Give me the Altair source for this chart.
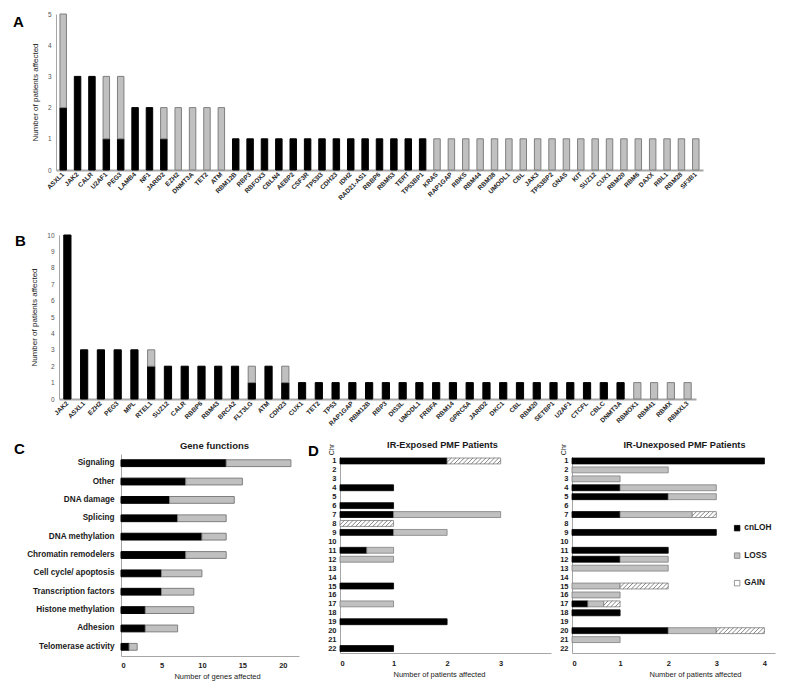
import altair as alt
import pandas as pd

FONT = "Liberation Sans"
BLACK = "#000000"
GRAY = "#c0c0c0"
GRAY_STROKE = "#7f7f7f"
AXIS_GRAY = "#a6a6a6"
TXT = "#1a1a1a"

# ---------------- Panel A ----------------
A_genes = ["ASXL1", "JAK2", "CALR", "U2AF1", "PEG3", "LAMB4", "NF1", "JARID2", "EZH2", "DNMT3A", "TET2", "ATM",
           "RBM12B", "RBP3", "RBFOX3", "CBLN4", "AEBP2", "CSF3R", "TP53I3", "CDH23", "IDH2", "RAD21-AS1", "RBBP6",
           "RBM53", "TERT", "TP53BP1",
           "KRAS", "RAP1GAP", "RBKS", "RBM44", "RBM38", "UMODL1", "CBL", "JAK3", "TP53BP2", "GNAS", "KIT", "SUZ12",
           "CUX1", "RBM20", "RBM6", "DAXX", "RBL1", "RBM28", "SF3B1"]
A_black = [2, 3, 3, 1, 1, 2, 2, 1, 0, 0, 0, 0,
           1, 1, 1, 1, 1, 1, 1, 1, 1, 1, 1, 1, 1, 1,
           0, 0, 0, 0, 0, 0, 0, 0, 0, 0, 0, 0, 0, 0, 0, 0, 0, 0, 0]
A_gray = [3, 0, 0, 2, 2, 0, 0, 1, 2, 2, 2, 2,
          0, 0, 0, 0, 0, 0, 0, 0, 0, 0, 0, 0, 0, 0,
          1, 1, 1, 1, 1, 1, 1, 1, 1, 1, 1, 1, 1, 1, 1, 1, 1, 1, 1]

# ---------------- Panel B ----------------
B_genes = ["JAK2", "ASXL1", "EZH2", "PEG3", "MPL", "RTEL1", "SUZ12", "CALR", "RBBP6", "RBM43", "BRCA2", "FLT3LG",
           "ATM", "CDH23",
           "CUX1", "TET2", "TP53", "RAP1GAP", "RBM12B", "RBP3", "DIS3L", "UMODL1", "FRBFA", "RBM14", "GPRC5A",
           "JARID2", "DKC1", "CBL", "RBM20", "SETBP1", "U2AF1", "CTCFL", "CBLC", "DNMT3A",
           "RBMOX1", "RBM41", "RBMX", "RBMXL3"]
B_black = [10, 3, 3, 3, 3, 2, 2, 2, 2, 2, 2, 1, 2, 1,
           1, 1, 1, 1, 1, 1, 1, 1, 1, 1, 1, 1, 1, 1, 1, 1, 1, 1, 1, 1,
           0, 0, 0, 0]
B_gray = [0, 0, 0, 0, 0, 1, 0, 0, 0, 0, 0, 1, 0, 1,
          0, 0, 0, 0, 0, 0, 0, 0, 0, 0, 0, 0, 0, 0, 0, 0, 0, 0, 0, 0,
          1, 1, 1, 1]

# ---------------- Panel C ----------------
C_cats = ["Signaling", "Other", "DNA damage", "Splicing", "DNA methylation", "Chromatin remodelers",
          "Cell cycle/ apoptosis", "Transcription factors", "Histone methylation", "Adhesion", "Telomerase activity"]
C_black = [13, 8, 6, 7, 10, 8, 5, 5, 3, 3, 1]
C_gray = [8, 7, 8, 6, 3, 5, 5, 4, 6, 4, 1]

# ---------------- Panel D ----------------
CHROMS = [1, 2, 3, 4, 5, 6, 7, 8, 9, 10, 11, 12, 13, 14, 15, 16, 17, 18, 19, 20, 21, 22]
D_types = ["cnLOH", "LOSS", "GAIN"]
EXP_cnloh = [2, 0, 0, 1, 0, 1, 1, 0, 1, 0, 0.5, 0, 0, 0, 1, 0, 0, 0, 2, 0, 0, 1]
EXP_loss = [0, 0, 0, 0, 0, 0, 2, 0, 1, 0, 0.5, 1, 0, 0, 0, 0, 1, 0, 0, 0, 0, 0]
EXP_gain = [1, 0, 0, 0, 0, 0, 0, 1, 0, 0, 0, 0, 0, 0, 0, 0, 0, 0, 0, 0, 0, 0]
UNE_cnloh = [4, 0, 0, 1, 2, 0, 1, 0, 3, 0, 2, 1, 0, 0, 0, 0, 0.33, 1, 0, 2, 0, 0]
UNE_loss = [0, 2, 1, 2, 1, 0, 1.5, 0, 0, 0, 0, 1, 2, 0, 1, 1, 0.33, 0, 0, 1, 1, 0]
UNE_gain = [0, 0, 0, 0, 0, 0, 0.5, 0, 0, 0, 0, 0, 0, 0, 1, 0, 0.34, 0, 0, 1, 0, 0]


def letter(ch, x, y):
    return alt.Chart(pd.DataFrame({"t": [ch]})).mark_text(
        x=x, y=y, align="left", baseline="top", fontSize=15, fontWeight="bold", font=FONT, color=BLACK
    ).encode(text="t:N")


def gene_panel(genes, black, gray, ymax, width, height, pad_inner, xrange, yoffset, let, let_x, let_y):
    rows = []
    for i, g in enumerate(genes):
        rows.append({"gene": g, "type": "a", "ord": 0, "value": black[i]})
        rows.append({"gene": g, "type": "b", "ord": 1, "value": gray[i]})
    df = pd.DataFrame(rows)
    xscale = alt.Scale(paddingInner=pad_inner, paddingOuter=pad_inner / 2)
    if xrange is not None:
        xscale = alt.Scale(paddingInner=pad_inner, paddingOuter=pad_inner / 2, range=xrange)
    bars = alt.Chart(df).transform_filter("datum.value > 0").mark_bar(strokeWidth=1).encode(
        x=alt.X("gene:N", sort=genes, scale=xscale,
                axis=alt.Axis(title=None, labelAngle=-45, labelAlign="right", labelBaseline="middle",
                              labelFontSize=6.5, labelFont=FONT, labelFontWeight="bold", labelColor="#262626",
                              ticks=False, labelPadding=3, domainColor=AXIS_GRAY, domainWidth=2,
                              labelOverlap=False)),
        y=alt.Y("value:Q", stack="zero", scale=alt.Scale(domain=[0, ymax], nice=False),
                axis=alt.Axis(title="Number of patients affected", values=list(range(ymax + 1)), ticks=False,
                              grid=False, domainColor=AXIS_GRAY, domainWidth=1, labelFontSize=6.5,
                              labelColor="#555555", labelFont=FONT, titleFont=FONT, titleFontSize=8,
                              titleFontWeight="normal", titleColor=TXT, titlePadding=8, labelPadding=5,
                              offset=yoffset, labelOverlap=False)),
        color=alt.Color("type:N", scale=alt.Scale(domain=["a", "b"], range=[BLACK, GRAY]), legend=None),
        stroke=alt.Stroke("type:N", scale=alt.Scale(domain=["a", "b"], range=[BLACK, GRAY_STROKE]), legend=None),
        order=alt.Order("ord:Q"),
    )
    return alt.layer(bars, letter(let, let_x, let_y)).properties(width=width, height=height)


panelA = gene_panel(A_genes, A_black, A_gray, 5, 647, 156, 0.55, None, 0, "A", -43, 1)
panelB = gene_panel(B_genes, B_black, B_gray, 10, 640, 164, 0.57, [3, 640], -3, "B", -41, -1)

# ---------------- C ----------------
crows = []
for i, c in enumerate(C_cats):
    crows.append({"cat": c, "type": "a", "ord": 0, "value": C_black[i]})
    crows.append({"cat": c, "type": "b", "ord": 1, "value": C_gray[i]})
cdf = pd.DataFrame(crows)
c_bars = alt.Chart(cdf).mark_bar(strokeWidth=1).encode(
    y=alt.Y("cat:N", sort=C_cats, scale=alt.Scale(paddingInner=0.63, paddingOuter=0.315),
            axis=alt.Axis(title=None, ticks=False, labelFont=FONT, labelFontSize=8.2, labelFontWeight="bold",
                          labelColor=TXT, labelPadding=7, domainColor=AXIS_GRAY, offset=-65)),
    x=alt.X("value:Q", stack="zero", scale=alt.Scale(domain=[0, 22], range=[65, 243], nice=False),
            axis=alt.Axis(title="Number of genes affected", values=[0, 5, 10, 15, 20], ticks=False, grid=False,
                          labelFont=FONT, labelFontSize=7.5, labelFontWeight="bold", labelColor=TXT,
                          labelPadding=5, domainColor=AXIS_GRAY, titleFont=FONT, titleFontSize=7.5,
                          titleFontWeight="normal", titleColor=TXT, titlePadding=4, titleX=161, format="d")),
    color=alt.Color("type:N", scale=alt.Scale(domain=["a", "b"], range=[BLACK, GRAY]), legend=None),
    stroke=alt.Stroke("type:N", scale=alt.Scale(domain=["a", "b"], range=[BLACK, GRAY_STROKE]), legend=None),
    order=alt.Order("ord:Q"),
)
panelC = alt.layer(c_bars, letter("C", -42, -12)).properties(
    width=245, height=202,
    title=alt.TitleParams("Gene functions", font=FONT, fontSize=9.5, fontWeight="bold", color=TXT, dx=36,
                          offset=-8))


# ---------------- D ----------------
def cnv_df(cn, loss, gain):
    rows = []
    for i, c in enumerate(CHROMS):
        for t, o, v in ((D_types[0], 0, cn[i]), (D_types[1], 1, loss[i]), (D_types[2], 2, gain[i])):
            rows.append({"chr": c, "type": t, "ord": o, "value": v})
    return pd.DataFrame(rows)


HALF = 0.33


def hatch_lines(cn, loss, gain, px_per_unit, band_px=5.9, gap_px=4.3):
    dx = band_px / px_per_unit
    step = gap_px / px_per_unit
    rows = []
    for i, g in enumerate(gain):
        if g <= 0:
            continue
        chrom = CHROMS[i]
        start = cn[i] + loss[i]
        end = start + g
        xs = start - dx
        while xs < end:
            t0 = max(0.0, (start - xs) / dx)
            t1 = min(1.0, (end - xs) / dx)
            if t1 > t0:
                rows.append({"hx": xs + t0 * dx, "hx2": xs + t1 * dx,
                             "hy": chrom + HALF - 2 * HALF * t0, "hy2": chrom + HALF - 2 * HALF * t1})
            xs += step
    return pd.DataFrame(rows)


def cnv_panel(cn, loss, gain, width, xmax, xticks, title, title_dx, xtitle_x, with_legend, let):
    df = cnv_df(cn, loss, gain)
    xs = alt.Scale(domain=[0, xmax], nice=False, zero=True)
    ys = alt.Scale(domain=[0.5, 22.5], range=[2.5, 199], nice=False, zero=False)
    x_axis = alt.Axis(values=xticks, ticks=False, grid=False, labelFont=FONT, labelFontSize=7.5,
                      labelFontWeight="bold", labelColor=TXT, labelPadding=6, domainColor=AXIS_GRAY,
                      titleFont=FONT, titleFontSize=7.5, titleFontWeight="normal", titleColor=TXT,
                      titlePadding=4, titleX=xtitle_x, format="d", labelOverlap=False)
    y_axis = alt.Axis(values=CHROMS, ticks=False, grid=False, labelFont=FONT, labelFontSize=7.5,
                      labelFontWeight="bold", labelColor=TXT, labelPadding=4, domainColor=AXIS_GRAY,
                      titleFont=FONT, titleFontSize=7, titleFontWeight="normal", titleColor=TXT,
                      titleAngle=270, titleX=-9, titleY=-5, titleAlign="center",
                      titleBaseline="middle", labelOverlap=False, format="d", labelFlush=False)
    legend = None
    if with_legend:
        legend = alt.Legend(title=None, orient="none", legendX=161, legendY=70, symbolType="square",
                            symbolSize=30, symbolStrokeColor=GRAY_STROKE, symbolStrokeWidth=0.8,
                            labelFont=FONT, labelFontSize=8.3, labelFontWeight="bold", labelColor=TXT,
                            rowPadding=17.5, labelOffset=3, padding=0)
    rects = alt.Chart(df).transform_stack(
        stack="value", groupby=["chr"], as_=["x0", "x1"], sort=[alt.SortField("ord", order="ascending")]
    ).transform_filter("datum.value > 0").transform_calculate(
        ya="datum.chr - %f" % HALF, yb="datum.chr + %f" % HALF
    ).mark_rect(strokeWidth=0.8).encode(
        x=alt.X("x0:Q", scale=xs, title="Number of patients affected", axis=x_axis),
        x2="x1:Q",
        y=alt.Y("ya:Q", scale=ys, title="Chr", axis=y_axis),
        y2="yb:Q",
        color=alt.Color("type:N", scale=alt.Scale(domain=D_types, range=[BLACK, GRAY, "#ffffff"]),
                        legend=legend),
        stroke=alt.Stroke("type:N", scale=alt.Scale(domain=D_types, range=[BLACK, GRAY_STROKE, GRAY_STROKE]),
                          legend=None),
    )
    hdf = hatch_lines(cn, loss, gain, width / xmax)
    hatch = alt.Chart(hdf).mark_rule(color="#505050", strokeWidth=0.7).encode(
        x=alt.X("hx:Q", scale=xs, title="Number of patients affected", axis=x_axis),
        x2="hx2:Q",
        y=alt.Y("hy:Q", scale=ys, title="Chr", axis=y_axis),
        y2="hy2:Q",
    )
    layers = [rects, hatch]
    if let is not None:
        layers.append(letter(let, -32, -10))
    return alt.layer(*layers).properties(
        width=width, height=199,
        title=alt.TitleParams(title, font=FONT, fontSize=9.2, fontWeight="bold", color=TXT, dx=title_dx,
                              offset=-6.5))


panelDL = cnv_panel(EXP_cnloh, EXP_loss, EXP_gain, 211, 3.94, [0, 1, 2, 3], "IR-Exposed PMF Patients",
                    -3, 99, False, "D")
panelDR = cnv_panel(UNE_cnloh, UNE_loss, UNE_gain, 203, 4.22, [0, 1, 2, 3, 4], "IR-Unexposed PMF Patients",
                    11, 123, True, None)

bottom = alt.hconcat(panelC, panelDL, panelDR, spacing=7).resolve_scale(
    x="independent", y="independent", color="independent", stroke="independent")

top = alt.vconcat(panelA, panelB, spacing=30).resolve_scale(
    x="independent", y="independent", color="independent", stroke="independent")

chart = alt.vconcat(top, bottom, spacing=13).resolve_scale(
    x="independent", y="independent", color="independent", stroke="independent"
).properties(
    padding={"left": 5, "top": 3, "right": 5, "bottom": 5}
).configure(font=FONT).configure_view(strokeWidth=0, stroke="transparent").configure_axis(
    grid=False, labelOverlap=False)

chart.save("out.html", embed_options={"renderer": "svg", "actions": False})
